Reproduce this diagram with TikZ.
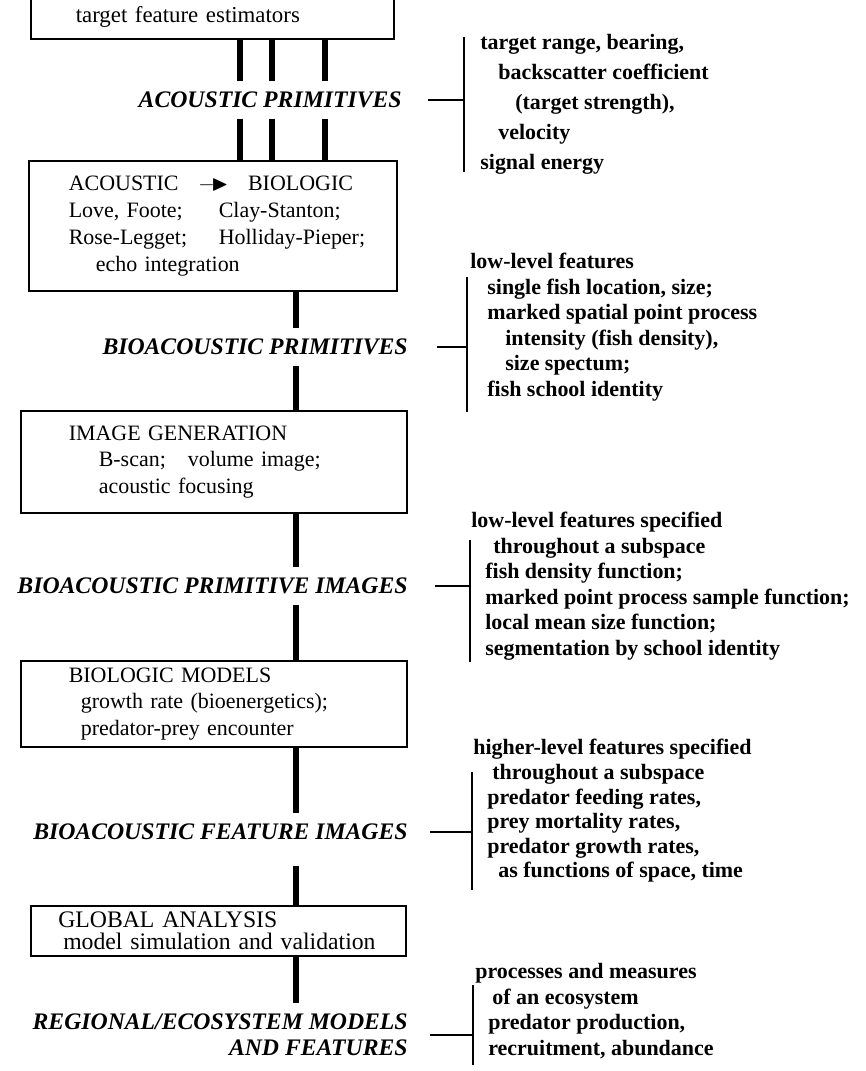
\documentclass[tikz,border=0pt]{standalone}
\usepackage{amssymb}
\usepackage{fontspec}
\setmainfont{Liberation Serif}
\usetikzlibrary{positioning}

\begin{document}
\begin{tikzpicture}[x=0.02cm, y=-0.02cm,
    stage/.style={draw, line width=0.9pt, anchor=north west, align=left, inner ysep=2pt, font=\fontsize{12.5}{15}\selectfont},
    level/.style={anchor=east, inner xsep=0pt, inner ysep=6pt, font=\fontsize{13.5}{14.7}\selectfont\bfseries\itshape},
    notes/.style={anchor=north west, align=left, inner sep=0pt, font=\fontsize{12.5}{14.5}\selectfont\bfseries},
    pipe/.style={line width=3.3pt},
    tick/.style={line width=0.9pt},
]
\useasboundingbox (0,0) rectangle (865,1071);

% Processing stages
\node[stage, anchor=south west, inner xsep=0.9cm, inner ysep=0.24cm, text width=5.46cm, font=\fontsize{13}{15}\selectfont] (est) at (30,40) {target feature estimators};
\node[stage, minimum width=7.36cm, minimum height=2.6cm, inner xsep=0.8cm, text width=5.76cm, font=\fontsize{12.5}{15.3}\selectfont] (bridge) at (28,160)
  {ACOUSTIC\hspace{0.9em}$\relbar\joinrel\blacktriangleright$\hspace{0.9em}BIOLOGIC\\
   \mbox{\makebox[3cm][l]{Love, Foote;}Clay-Stanton;}\\
   \mbox{\makebox[3cm][l]{Rose-Legget;}Holliday-Pieper;}\\
   \hspace*{0.54cm}echo integration};
\node[stage, minimum width=7.72cm, minimum height=2.04cm, inner xsep=0.96cm, text width=5.8cm] (imgen) at (20,410)
  {IMAGE GENERATION\\
   \hspace*{0.6cm}B-scan;\hspace{1em}volume image;\\
   \hspace*{0.6cm}acoustic focusing};
\node[stage, minimum width=7.72cm, minimum height=1.72cm, inner xsep=0.96cm, text width=5.8cm] (biomod) at (20,660)
  {BIOLOGIC MODELS\\
   \hspace*{0.24cm}growth rate (bioenergetics);\\
   \hspace*{0.24cm}predator-prey encounter};
\node[stage, minimum width=7.5cm, minimum height=1cm, inner xsep=0.55cm, inner ysep=0pt, text width=6.4cm, font=\fontsize{13.5}{13}\selectfont] (global) at (30,905)
  {GLOBAL ANALYSIS\\
   \mbox{\hspace*{0.1cm}model simulation and validation}};

% Data levels
\node[level] (ap) at (402,100) {ACOUSTIC PRIMITIVES};
\node[level] (bp) at (408,347) {BIOACOUSTIC PRIMITIVES};
\node[level] (bpi) at (408,586) {BIOACOUSTIC PRIMITIVE IMAGES};
\node[level] (bfi) at (408,832) {BIOACOUSTIC FEATURE IMAGES};
\node[level, align=right] (reg) at (408,1035) {REGIONAL/ECOSYSTEM MODELS\\AND FEATURES};

% Flow
\coordinate (p1) at (240,0);
\coordinate (p2) at (272,0);
\coordinate (p3) at (325,0);
\coordinate (px) at (296,0);
\foreach \p in {p1,p2,p3} {
  \draw[pipe] (est.south -| \p) -- (ap.north -| \p);
  \draw[pipe] (ap.south -| \p) -- (bridge.north -| \p);
}
\draw[pipe] (bridge.south -| px) -- (bp.north -| px);
\draw[pipe] (bp.south -| px) -- (imgen.north -| px);
\draw[pipe] (imgen.south -| px) -- (bpi.north -| px);
\draw[pipe] (bpi.south -| px) -- (biomod.north -| px);
\draw[pipe] (biomod.south -| px) -- (bfi.north -| px);
\draw[pipe, shorten <=0.3cm] (bfi.south -| px) -- (global.north -| px);
\draw[pipe] (global.south -| px) -- (reg.north -| px);

% Feature lists
\node[notes, font=\fontsize{12.5}{17}\selectfont\bfseries] (n1) at (480,34)
  {target range, bearing,\\
   \hspace*{0.36cm}backscatter coefficient\\
   \hspace*{0.7cm}(target strength),\\
   \hspace*{0.36cm}velocity\\
   signal energy};
\node[notes] (n2) at (470,253)
  {low-level features\\
   \hspace*{0.34cm}single fish location, size;\\
   \hspace*{0.34cm}marked spatial point process\\
   \hspace*{0.7cm}intensity (fish density),\\
   \hspace*{0.7cm}size spectum;\\
   \hspace*{0.34cm}fish school identity};
\node[notes] (n3) at (471,512)
  {low-level features specified\\
   \hspace*{0.44cm}throughout a subspace\\
   \hspace*{0.28cm}fish density function;\\
   \hspace*{0.28cm}marked point process sample function;\\
   \hspace*{0.28cm}local mean size function;\\
   \hspace*{0.28cm}segmentation by school identity};
\node[notes, font=\fontsize{12.5}{14}\selectfont\bfseries] (n4) at (473,739)
  {higher-level features specified\\
   \hspace*{0.38cm}throughout a subspace\\
   \hspace*{0.28cm}predator feeding rates,\\
   \hspace*{0.28cm}prey mortality rates,\\
   \hspace*{0.28cm}predator growth rates,\\
   \hspace*{0.5cm}as functions of space, time};
\node[notes] (n5) at (475,963)
  {processes and measures\\
   \hspace*{0.34cm}of an ecosystem\\
   \hspace*{0.26cm}predator production,\\
   \hspace*{0.26cm}recruitment, abundance};

% Brackets
\coordinate (b1t) at (464,37);   \coordinate (b1b) at (464,172);
\coordinate (b2t) at (467,277);  \coordinate (b2b) at (467,412);
\coordinate (b3t) at (470,540);  \coordinate (b3b) at (470,662);
\coordinate (b4t) at (472,772);  \coordinate (b4b) at (472,890);
\coordinate (b5t) at (473,985);  \coordinate (b5b) at (473,1065);
\foreach \i in {1,...,5} \draw[tick] (b\i t) -- (b\i b);
\draw[tick] ([xshift=0.52cm]ap.east) -- (ap.east -| b1t);
\draw[tick] ([xshift=0.58cm]bp.east) -- (bp.east -| b2t);
\draw[tick] ([xshift=0.54cm]bpi.east) -- (bpi.east -| b3t);
\draw[tick] ([xshift=0.44cm]bfi.east) -- (bfi.east -| b4t);
\draw[tick] ([xshift=0.44cm]reg.east) -- (reg.east -| b5t);

\end{tikzpicture}
\end{document}
